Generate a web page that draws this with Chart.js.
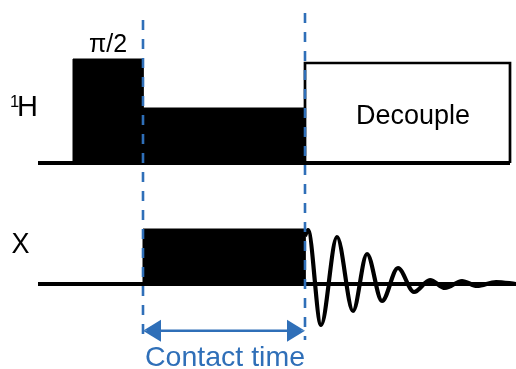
<!DOCTYPE html>
<html><head><meta charset="utf-8">
<script src="https://cdn.jsdelivr.net/npm/chart.js@4.4.1/dist/chart.umd.min.js"></script>
<style>html,body{margin:0;padding:0;background:#fff;}canvas{display:block;}</style>
</head><body>
<canvas id="c" width="516" height="369"></canvas>
<script>
// ---------- DATA (time in a.u. along x, amplitude in a.u. along y) ----------
const channelNames = ['¹H', 'X'];
const channelBaselines = [206, 85];
const channelStart = [38, 38];
const channelEnd = [510, 516];

// ¹H channel: π/2 pulse then contact (spin-lock) pulse
const hTimes = [38, 73, 73, 143, 143, 305, 305];
const hAmps  = [0, 0, 104, 104, 55, 55, 0];

// ¹H decoupling block (outlined)
const decTimes = [305, 305, 510, 510];
const decAmps  = [0, 100, 100, 0];

// X channel contact pulse
const xTimes = [143, 143, 305, 305];
const xAmps  = [0, 55, 55, 0];

// X channel FID (extrema)
const fidTimes = [305, 308, 321, 337, 353, 367, 382, 398, 414, 430, 445, 462, 477, 496, 516];
const fidAmps  = [48, 54, -41, 47, -27, 30, -17, 16, -8, 4, -4, 3, -2, 2, 0];

// Contact-time window, marker extents and arrow level
const contactWindow = [143, 305];
const markerTop = [349, 356];
const markerBottom = 29;
const arrowLevel = 38.3;

// Text labels, anchored at (time, level)
const labelTexts  = ['π/2', 'Decouple', 'Contact time', '1', 'H', 'X'];
const labelTimes  = [108, 413, 225, 10, 17, 11.5];
const labelLevels = [317.3, 244.7, 2.6, 262.3, 252.7, 115.7];

// ---------- STYLES ----------
const BLACK = '#000000';
const BLUE = '#2f6fb8';
const FONT = "'Liberation Sans', Arial, Helvetica, sans-serif";
const labelSizes  = [25, 27, 28.5, 16.5, 29, 27];
const labelStretch = [1.05, 1.05, 1.0, 1.0, 1.0, 1.07];
const labelAligns = ['center', 'center', 'center', 'left', 'left', 'left'];
const labelColors = [BLACK, BLACK, BLUE, BLACK, BLACK, BLACK];
const headLen = 18, headHalf = 11;

// ---------- BUILD ----------
const pts = (times, amps, base) => times.map((t, i) => ({x: t, y: base + amps[i]}));
const base = {pointRadius: 0, pointHoverRadius: 0, tension: 0, clip: false, fill: false};

const datasets = [];
// dashed markers (on top)
contactWindow.forEach((t, i) => {
  datasets.push({...base, data: [{x: t, y: markerTop[i]}, {x: t, y: markerBottom}],
    borderColor: BLUE, borderWidth: 2.6, borderDash: [10, 9], order: 0});
});
// arrow shaft
datasets.push({...base, data: [{x: contactWindow[0] + 4, y: arrowLevel}, {x: contactWindow[1] - 4, y: arrowLevel}],
  borderColor: BLUE, borderWidth: 2.6, order: 1});
// arrow heads (upper & lower halves, filled to the arrow level)
[[contactWindow[0], 1], [contactWindow[1], -1]].forEach(([tip, dir]) => {
  [1, -1].forEach(side => {
    const back = tip + dir * headLen;
    const d = dir > 0
      ? [{x: tip, y: arrowLevel}, {x: back, y: arrowLevel + side * headHalf}, {x: back, y: arrowLevel}]
      : [{x: back, y: arrowLevel}, {x: back, y: arrowLevel + side * headHalf}, {x: tip, y: arrowLevel}];
    datasets.push({...base, data: d, borderColor: 'rgba(0,0,0,0)', borderWidth: 0.01,
      backgroundColor: BLUE, fill: {value: arrowLevel}, order: 1});
  });
});
// FID
datasets.push({...base, data: pts(fidTimes, fidAmps, channelBaselines[1]), borderColor: BLACK,
  borderWidth: 4.2, cubicInterpolationMode: 'monotone', order: 2});
// baselines
channelBaselines.forEach((b, i) => {
  datasets.push({...base, data: [{x: channelStart[i], y: b}, {x: channelEnd[i], y: b}],
    borderColor: BLACK, borderWidth: 4, order: 3});
});
// decouple box
datasets.push({...base, data: pts(decTimes, decAmps, channelBaselines[0]), borderColor: BLACK,
  borderWidth: 2.7, borderJoinStyle: 'miter', order: 3});
// pulses (filled)
datasets.push({...base, data: pts(hTimes, hAmps, channelBaselines[0]), borderColor: BLACK, borderWidth: 1,
  backgroundColor: BLACK, fill: {value: channelBaselines[0]}, order: 4});
datasets.push({...base, data: pts(xTimes, xAmps, channelBaselines[1]), borderColor: BLACK, borderWidth: 1,
  backgroundColor: BLACK, fill: {value: channelBaselines[1]}, order: 4});

const labelPlugin = {
  id: 'labels',
  afterDraw(chart) {
    const {ctx, scales: {x, y}} = chart;
    labelTexts.forEach((txt, i) => {
      ctx.save();
      ctx.textBaseline = 'alphabetic';
      ctx.font = labelSizes[i] + 'px ' + FONT;
      ctx.fillStyle = labelColors[i];
      ctx.textAlign = labelAligns[i];
      ctx.translate(x.getPixelForValue(labelTimes[i]), y.getPixelForValue(labelLevels[i]));
      ctx.scale(1, labelStretch[i]);
      ctx.fillText(txt, 0, 0);
      ctx.restore();
    });
  }
};

new Chart(document.getElementById('c'), {
  type: 'line',
  data: {datasets},
  options: {
    responsive: false,
    animation: false,
    devicePixelRatio: 1,
    layout: {padding: 0},
    plugins: {legend: {display: false}, tooltip: {enabled: false}},
    scales: {
      x: {type: 'linear', min: 0, max: 516, display: false},
      y: {type: 'linear', min: 0, max: 369, display: false}
    }
  },
  plugins: [labelPlugin]
});
</script>
</body></html>
